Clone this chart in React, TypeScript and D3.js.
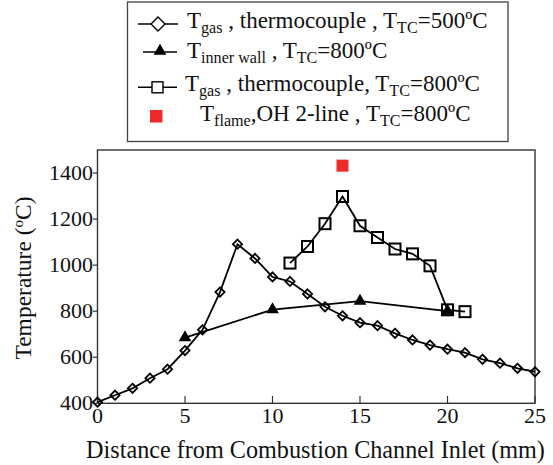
import React from 'react';
import * as d3 from 'd3';

// distance along the channel (mm)
const tc500X = d3.range(0, 26);
const tc500Gas = [405, 435, 465, 509, 548, 629, 719, 883, 1091, 1029, 949, 929, 875, 819, 780, 750,
  737, 704, 675, 653, 635, 620, 591, 574, 552, 537];

const wallX = [5, 10, 15, 20];
const wallTemp = [685, 807, 844, 800];

const tc800X = [11, 12, 13, 14, 15, 16, 17, 18, 19, 20, 21];
const tc800Gas = [1009, 1081, 1180, 1298, 1171, 1120, 1070, 1049, 997, 806, 798];

const flameX = [14];
const flameTemp = [1432];

const xTicks = [0, 5, 10, 15, 20, 25];
const yTicks = [400, 600, 800, 1000, 1200, 1400];

const FONT = '"Liberation Serif", "Times New Roman", serif';
const RED = '#ee2b2b';

const diamond = (s: number) => `M0,${-s}L${s},0L0,${s}L${-s},0Z`;
const tri = d3.symbol(d3.symbolTriangle, 70)() as string;

// legend entries: [text, isSub]
const legendRows: [string, boolean][][] = [
  [['T', false], ['gas', true], [' , thermocouple , T', false], ['TC', true], ['=500ºC', false]],
  [['T', false], ['inner wall', true], [' , T', false], ['TC', true], ['=800ºC', false]],
  [['T', false], ['gas', true], [' , thermocouple, T', false], ['TC', true], ['=800ºC', false]],
  [['T', false], ['flame', true], [',OH 2-line , T', false], ['TC', true], ['=800ºC', false]],
];

const Rich = ({ parts, x, y, size }: { parts: [string, boolean][]; x: number; y: number; size: number }) => {
  let prevSub = false;
  return (
    <text x={x} y={y} fontFamily={FONT} fontSize={size} fill="#111">
      {parts.map(([t, sub], i) => {
        const dy = sub && !prevSub ? 5 : !sub && prevSub ? -5 : 0;
        prevSub = sub;
        return (
          <tspan key={i} dy={dy} fontSize={sub ? size * 0.7 : size} style={{ whiteSpace: 'pre' }}>
            {t}
          </tspan>
        );
      })}
    </text>
  );
};

export default function App() {
  const width = 553;
  const height = 465;
  const x = d3.scaleLinear().domain([0, 25]).range([97.5, 535]);
  const y = d3.scaleLinear().domain([400, 1500]).range([403.3, 150]);

  const line = (xs: number[], ys: number[]) =>
    d3.line<number>().x((_, i) => x(xs[i])).y((d) => y(d))(ys) as string;

  const fs = 22;
  const legendFs = 23;
  const rowY = [28, 58, 91, 121];
  const textX = [187, 187, 185, 200];

  return (
    <svg width={width} height={height} style={{ position: 'absolute', left: 0, top: 0, background: '#fff' }}>
      {/* legend */}
      <rect x={127.5} y={2} width={380.5} height={139.5} fill="none" stroke="#444" strokeWidth={1.3} />
      <line x1={138} x2={178} y1={24} y2={24} stroke="#000" strokeWidth={1.6} />
      <path d={diamond(7)} transform="translate(158,24)" fill="#fff" stroke="#000" strokeWidth={1.4} />
      <line x1={143} x2={177} y1={52} y2={52} stroke="#000" strokeWidth={1.6} />
      <path d={tri} transform="translate(160,51)" fill="#000" />
      <line x1={138} x2={177} y1={87.3} y2={87.3} stroke="#000" strokeWidth={1.6} />
      <rect x={152} y={81.8} width={11} height={11} fill="#fff" stroke="#000" strokeWidth={1.4} />
      <rect x={150} y={110} width={12.5} height={12.5} fill={RED} />
      {legendRows.map((r, i) => (
        <Rich key={i} parts={r} x={textX[i]} y={rowY[i]} size={legendFs} />
      ))}

      {/* frame */}
      <rect x={97.5} y={150} width={437.5} height={253.3} fill="none" stroke="#333" strokeWidth={1.4} />

      {/* y axis */}
      {yTicks.map((t) => (
        <g key={t}>
          <line x1={93} x2={97.5} y1={y(t)} y2={y(t)} stroke="#333" strokeWidth={1.2} />
          <text x={93} y={y(t) + 7} textAnchor="end" fontFamily={FONT} fontSize={fs} fill="#111">
            {t}
          </text>
        </g>
      ))}
      {/* x axis */}
      {xTicks.map((t) => (
        <g key={t}>
          <line x1={x(t)} x2={x(t)} y1={403.3} y2={396} stroke="#333" strokeWidth={1.2} />
          <text x={x(t)} y={423} textAnchor="middle" fontFamily={FONT} fontSize={fs} fill="#111">
            {t}
          </text>
        </g>
      ))}

      <text x={315.5} y={458} textAnchor="middle" fontFamily={FONT} fontSize={24.2} fill="#111">
        Distance from Combustion Channel Inlet (mm)
      </text>
      <text transform="translate(31,278) rotate(-90)" textAnchor="middle" fontFamily={FONT} fontSize={23.5} fill="#111">
        Temperature (<tspan dy={-8} fontSize={15}>o</tspan><tspan dy={8}>C)</tspan>
      </text>

      {/* series */}
      <path d={line(tc500X, tc500Gas)} fill="none" stroke="#000" strokeWidth={1.8} />
      <path d={line(wallX, wallTemp)} fill="none" stroke="#000" strokeWidth={1.8} />
      <path d={line(tc800X, tc800Gas)} fill="none" stroke="#000" strokeWidth={1.8} />

      {tc500Gas.map((v, i) => (
        <path key={i} d={diamond(4.6)} transform={`translate(${x(tc500X[i])},${y(v)})`} fill="none" stroke="#000" strokeWidth={1.8} />
      ))}
      {tc800Gas.map((v, i) => (
        <rect key={i} x={x(tc800X[i]) - 5.5} y={y(v) - 5.5} width={11} height={11} fill="none" stroke="#000" strokeWidth={2} />
      ))}
      {wallTemp.map((v, i) => (
        <path key={i} d={tri} transform={`translate(${x(wallX[i])},${y(v)})`} fill="#000" />
      ))}
      {flameTemp.map((v, i) => (
        <rect key={i} x={x(flameX[i]) - 6} y={y(v) - 6} width={12} height={12} fill={RED} />
      ))}
    </svg>
  );
}
